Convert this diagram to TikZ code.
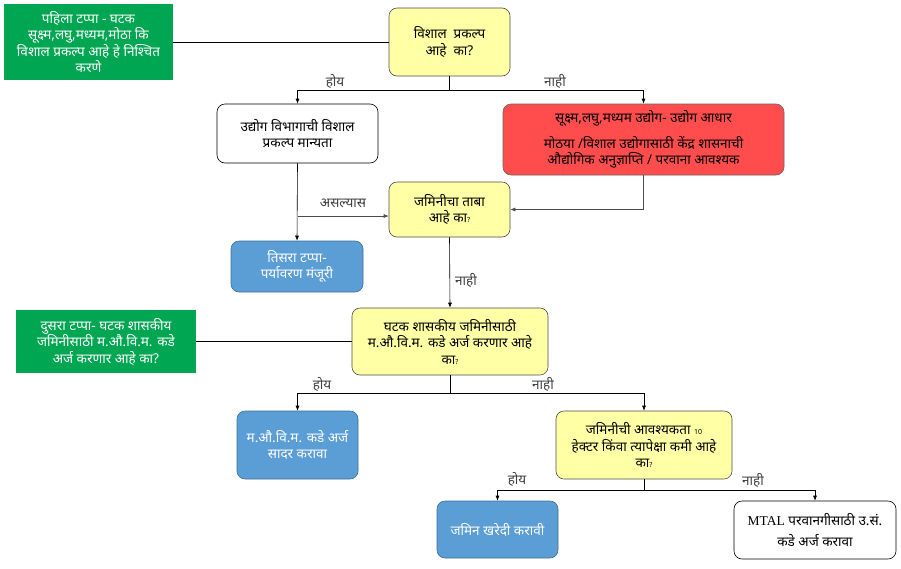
\documentclass[tikz,border=0pt]{standalone}
\usepackage{fontspec}
\setmainfont{Noto Sans}[Script=Devanagari]
\newfontfamily\latinfont{Liberation Serif}
\usetikzlibrary{arrows.meta}

\definecolor{stagegreen}{RGB}{0,166,81}
\definecolor{askyellow}{RGB}{255,255,166}
\definecolor{warnred}{RGB}{255,77,77}
\definecolor{doblue}{RGB}{91,157,213}

\begin{document}
\begin{tikzpicture}
        [x = 1pt, y = -1pt, line width = .6pt,
         font = \fontsize{13.5}{16.5}\selectfont,
         every node/.style = {align = center, inner sep = 1pt},
         stage/.style = {fill = stagegreen, text = white},
         ask/.style = {draw = black!70, fill = askyellow, rounded corners = 8pt},
         act/.style = {draw = doblue!70!black, fill = doblue, text = white, rounded corners = 8pt},
         plain/.style = {draw, fill = white, rounded corners = 8pt},
         warn/.style = {draw = black!60, fill = warnred, rounded corners = 8pt},
         arr/.style = {-{Latex[length = 5pt, width = 4pt]}},
         lbl/.style = {text = black!75}]

        \useasboundingbox (0,0) rectangle (901,568);

        % stages and questions
        \node[stage, minimum width = 169pt, minimum height = 76pt] (stageone) at (88.5,42)
          {पहिला टप्पा - घटक\\सूक्ष्म,लघु,मध्यम,मोठा कि\\विशाल प्रकल्प आहे हे निश्चित\\करणे};
        \node[ask, minimum width = 121pt, minimum height = 68pt] (big) at (449.5,42)
          {विशाल \ प्रकल्प\\आहे \ का?};
        \node[plain, minimum width = 161pt, minimum height = 59pt] (approval) at (297.5,133.5)
          {उद्योग विभागाची विशाल\\प्रकल्प मान्यता};
        \node[warn, minimum width = 281pt, minimum height = 71pt] (aadhar) at (643.5,139.5)
          {सूक्ष्म,लघु,मध्यम उद्योग- उद्योग आधार\\[9pt]मोठया /विशाल उद्योगासाठी केंद्र शासनाची\\औद्योगिक अनुज्ञाप्ति / परवाना आवश्यक};
        \node[ask, minimum width = 121pt, minimum height = 55pt] (possession) at (449.5,209.5)
          {जमिनीचा ताबा\\आहे का{\scriptsize ?}};
        \node[act, minimum width = 132pt, minimum height = 51pt] (stagethree) at (297,266.5)
          {तिसरा टप्पा-\\पर्यावरण मंजूरी};
        \node[ask, minimum width = 196pt, minimum height = 67pt] (govland) at (450,341.5)
          {घटक शासकीय जमिनीसाठी\\म.औ.वि.म. कडे अर्ज करणार आहे\\का{\scriptsize ?}};
        \node[stage, minimum width = 180pt, minimum height = 63pt] (stagetwo) at (106,341.5)
          {दुसरा टप्पा- घटक शासकीय\\जमिनीसाठी म.औ.वि.म. कडे\\अर्ज करणार आहे का?};
        \node[act, minimum width = 121pt, minimum height = 68pt] (apply) at (297.5,445)
          {म.औ.वि.म. कडे अर्ज\\सादर करावा};
        \node[ask, minimum width = 176pt, minimum height = 68pt] (area) at (644,445)
          {जमिनीची आवश्यकता {\scriptsize 10}\\हेक्टर किंवा त्यापेक्षा कमी आहे\\का{\scriptsize ?}};
        \node[act, minimum width = 121pt, minimum height = 57pt] (purchase) at (497.5,529.5)
          {जमिन खरेदी करावी};
        \node[plain, minimum width = 162pt, minimum height = 58pt] (mtal) at (815,530)
          {{\latinfont MTAL} परवानगीसाठी उ.सं.\\[5pt]कडे अर्ज करावा};

        % connectors
        \draw (stageone) -- (big);
        \draw (stagetwo) -- (govland);

        \draw (big.south) -- ++(0,14) coordinate (bigfork);
        \draw[arr] (bigfork) -| (approval.north);
        \draw[arr] (bigfork) -| (aadhar.north);
        \node[lbl] at (335,81) {होय};
        \node[lbl] at (555,81) {नाही};

        \draw[arr] (approval.south) -- (stagethree.north);
        \draw[arr, black!70] (approval.south |- 0,216) -- (possession.west |- 0,216);
        \node[lbl] at (343,203) {असल्यास};
        \draw[arr, black!70] (aadhar.south) |- (possession.east);

        \draw[arr] (possession.south) -- (govland.north);
        \node[lbl] at (466,280) {नाही};

        \draw (govland.south) -- ++(0,18) coordinate (landfork);
        \draw[arr] (landfork) -| (apply.north);
        \draw[arr] (landfork) -| (area.north);
        \node[lbl] at (322,384) {होय};
        \node[lbl] at (543,384) {नाही};

        \draw (area.south) -- ++(0,11) coordinate (areafork);
        \draw[arr] (areafork) -| (purchase.north);
        \draw[arr] (areafork) -| (mtal.north);
        \node[lbl] at (517,479) {होय};
        \node[lbl] at (753,480) {नाही};
\end{tikzpicture}
\end{document}
